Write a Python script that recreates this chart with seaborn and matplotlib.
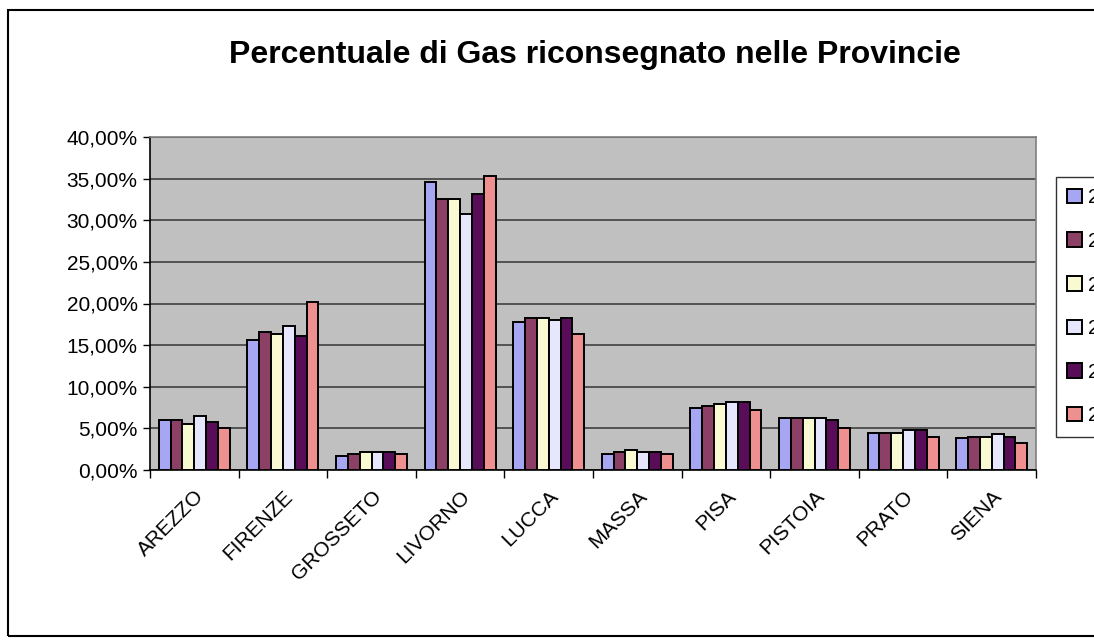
import matplotlib
matplotlib.use("Agg")
import matplotlib.pyplot as plt
import seaborn as sns
import pandas as pd
from matplotlib.ticker import FuncFormatter, MultipleLocator
from matplotlib.patches import Rectangle

provinces = ["AREZZO", "FIRENZE", "GROSSETO", "LIVORNO", "LUCCA",
             "MASSA", "PISA", "PISTOIA", "PRATO", "SIENA"]
years = ["2000", "2001", "2002", "2003", "2004", "2005"]

v2000 = [6.0, 15.6, 1.7, 34.6, 17.8, 1.9, 7.4, 6.2, 4.5, 3.8]
v2001 = [6.0, 16.6, 1.9, 32.6, 18.2, 2.2, 7.7, 6.2, 4.5, 4.0]
v2002 = [5.5, 16.3, 2.2, 32.6, 18.2, 2.4, 7.9, 6.2, 4.5, 4.0]
v2003 = [6.5, 17.3, 2.2, 30.7, 18.0, 2.2, 8.2, 6.2, 4.8, 4.3]
v2004 = [5.75, 16.1, 2.2, 33.1, 18.2, 2.2, 8.2, 6.0, 4.8, 4.0]
v2005 = [5.0, 20.2, 1.9, 35.3, 16.3, 1.9, 7.2, 5.0, 4.0, 3.3]
series = [v2000, v2001, v2002, v2003, v2004, v2005]

colors = ["#9999FF", "#993366", "#FFFFCC", "#E3E3FF", "#660066", "#FF8080"]

rows = []
for y, vals in zip(years, series):
    for p, v in zip(provinces, vals):
        rows.append({"Provincia": p, "Anno": y, "Valore": v})
df = pd.DataFrame(rows)

sns.set_theme(style="white")
plt.rcParams["font.family"] = ["Liberation Sans", "DejaVu Sans"]
plt.rcParams["text.color"] = "black"
plt.rcParams["xtick.color"] = "black"
plt.rcParams["ytick.color"] = "black"
plt.rcParams["axes.labelcolor"] = "black"

W, H = 1094, 642
fig = plt.figure(figsize=(W / 100, H / 100), dpi=100)
fig.patch.set_facecolor("white")

ax = fig.add_axes([150 / W, 1 - 470 / H, (1036 - 150) / W, (470 - 137) / H])
ax.set_facecolor("#C0C0C0")

sns.barplot(data=df, x="Provincia", y="Valore", hue="Anno",
            hue_order=years, order=provinces, palette=colors,
            edgecolor="black", linewidth=1.4, width=0.8,
            errorbar=None, ax=ax, zorder=3)

ax.set_ylim(0, 40)
ax.set_xlim(-0.5, len(provinces) - 0.5)
ax.yaxis.set_major_locator(MultipleLocator(5))
ax.yaxis.set_major_formatter(FuncFormatter(lambda v, p: f"{v:.2f}%".replace(".", ",")))
ax.grid(axis="y", color="#404040", linewidth=1.2, zorder=0)
ax.set_axisbelow(True)
ax.set_xlabel("")
ax.set_ylabel("")

# category boundary ticks
ax.set_xticks([i - 0.5 for i in range(len(provinces) + 1)], minor=False)
ax.set_xticklabels([])
ax.set_xticks(range(len(provinces)), minor=True)
ax.set_xticklabels(provinces, minor=True, rotation=45, ha="right",
                   rotation_mode="anchor", fontsize=15)
ax.tick_params(axis="x", which="major", direction="out", length=6, width=1, color="black", bottom=True)
ax.tick_params(axis="x", which="minor", length=0, pad=12)
ax.tick_params(axis="y", direction="out", length=5, width=1, color="black", left=True,
               labelsize=15, pad=4)

for s in ["left", "bottom"]:
    ax.spines[s].set_color("black")
    ax.spines[s].set_linewidth(1.2)
for s in ["top", "right"]:
    ax.spines[s].set_color("#808080")
    ax.spines[s].set_linewidth(1.2)

sns.move_legend(ax, loc="upper left", bbox_to_anchor=(1056 / W, 1 - 177 / H),
                bbox_transform=fig.transFigure, title=None, frameon=True,
                fontsize=15, handlelength=0.7, handleheight=0.7,
                labelspacing=1.18, borderpad=0.55, handletextpad=0.3,
                fancybox=False, borderaxespad=0)
leg = ax.get_legend()
leg.get_frame().set_edgecolor("black")
leg.get_frame().set_linewidth(1.0)
for h in leg.legend_handles:
    h.set_edgecolor("black")
    h.set_linewidth(1.4)

fig.text(595 / W, 1 - 55 / H, "Percentuale di Gas riconsegnato nelle Provincie",
         ha="center", va="center", fontsize=23, fontweight="bold")

fig.patches.append(Rectangle((8 / W, 1 - 636 / H), 1.2, (636 - 10) / H,
                             transform=fig.transFigure, fill=False,
                             edgecolor="black", linewidth=1.5))

fig.savefig("out.png", dpi=100)
